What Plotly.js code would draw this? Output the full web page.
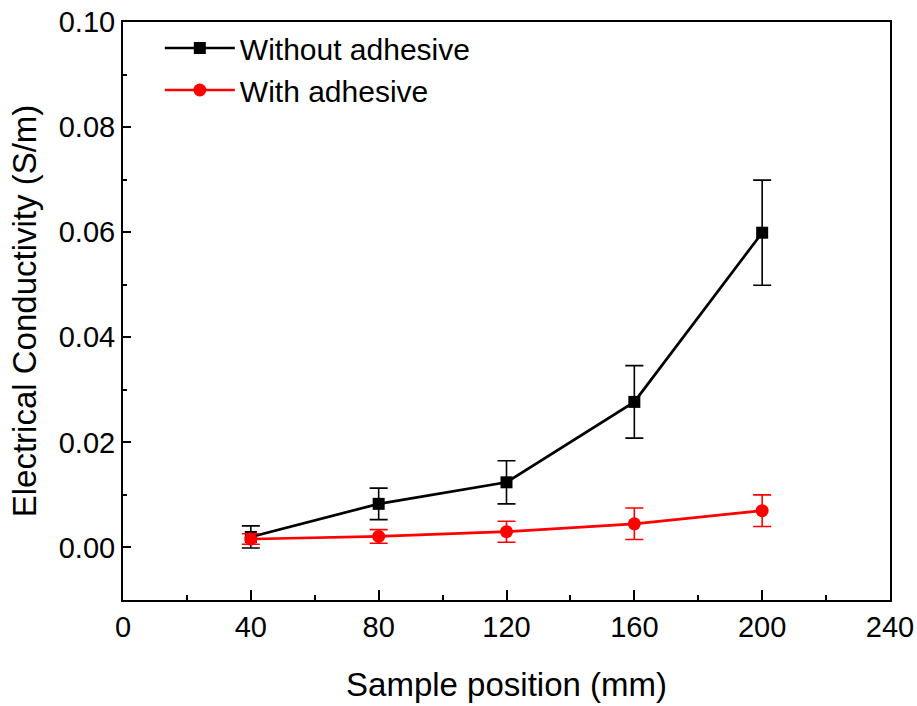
<!DOCTYPE html>
<html>
<head>
<meta charset="utf-8">
<script src="https://cdn.plot.ly/plotly-3.0.1.min.js"></script>
<style>html,body{margin:0;padding:0;background:#fff;}#chart{width:917px;height:706px;}</style>
</head>
<body>
<div id="chart"></div>
<script>
const positions = [40, 80, 120, 160, 200];
const withoutAdhesive = [0.0020, 0.0083, 0.0124, 0.0277, 0.0599];
const withoutAdhesiveErr = [0.0021, 0.0030, 0.0041, 0.0069, 0.0100];
const withAdhesive = [0.0016, 0.0021, 0.0030, 0.0045, 0.0070];
const withAdhesiveErr = [0.0010, 0.0013, 0.0020, 0.0030, 0.0030];
const seriesNames = ["Without adhesive", "With adhesive"];

const font = "Liberation Sans, Arial, sans-serif";
const traces = [
  {
    x: positions, y: withoutAdhesive, name: seriesNames[0], type: "scatter", mode: "lines+markers",
    line: {color: "#000000", width: 2.7},
    marker: {symbol: "square", size: 12, color: "#000000"},
    error_y: {type: "data", array: withoutAdhesiveErr, visible: true, color: "#000000", thickness: 1.6, width: 9}
  },
  {
    x: positions, y: withAdhesive, name: seriesNames[1], type: "scatter", mode: "lines+markers",
    line: {color: "#ff0000", width: 2.7},
    marker: {symbol: "circle", size: 13, color: "#ff0000"},
    error_y: {type: "data", array: withAdhesiveErr, visible: true, color: "#ff0000", thickness: 1.6, width: 9}
  }
];

const layout = {
  width: 917, height: 706,
  paper_bgcolor: "#ffffff", plot_bgcolor: "#ffffff",
  margin: {l: 123, r: 27, t: 22, b: 106},
  font: {family: font, color: "#000000", size: 29},
  showlegend: true,
  legend: {x: 0.048, y: 1.0, xanchor: "left", yanchor: "top", bgcolor: "rgba(0,0,0,0)",
           font: {family: font, size: 30, color: "#000"}, tracegroupgap: 0, itemwidth: 70},
  xaxis: {
    range: [0, 240], tickmode: "array", tickvals: [0, 40, 80, 120, 160, 200, 240],
    ticktext: ["0", "40", "80", "120", "160", "200", "240"],
    showgrid: false, zeroline: false, showline: true, linecolor: "#000", linewidth: 2, mirror: true,
    ticks: "inside", ticklen: 10, tickwidth: 2, tickcolor: "#000",
    minor: {dtick: 20, tick0: 0, ticks: "inside", ticklen: 5, tickwidth: 2, tickcolor: "#000"},
    tickfont: {family: font, size: 29},
    title: {text: "Sample position (mm)", font: {family: font, size: 33}, standoff: 31}
  },
  yaxis: {
    range: [-0.01, 0.10], tickmode: "array", tickvals: [0, 0.02, 0.04, 0.06, 0.08, 0.10],
    ticktext: ["0.00", "0.02", "0.04", "0.06", "0.08", "0.10"],
    showgrid: false, zeroline: false, showline: true, linecolor: "#000", linewidth: 2, mirror: true,
    ticks: "inside", ticklen: 8, tickwidth: 2, tickcolor: "#000",
    minor: {dtick: 0.01, tick0: 0, ticks: "inside", ticklen: 4, tickwidth: 2, tickcolor: "#000"},
    tickfont: {family: font, size: 29},
    title: {text: "Electrical Conductivity (S/m)", font: {family: font, size: 33}, standoff: 12}
  }
};

Plotly.newPlot("chart", traces, layout, {displayModeBar: false, staticPlot: true});
</script>
</body>
</html>
